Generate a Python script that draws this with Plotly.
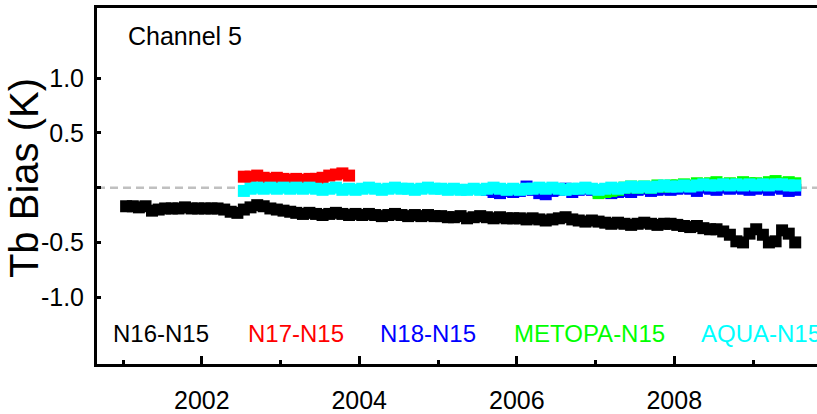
import pandas as pd
import plotly.graph_objects as go

# ---------------- data (monthly mean Tb bias, K) ----------------
channel_label = "Channel 5"
y_title = "Tb Bias (K)"
series_names = ["N16-N15", "N17-N15", "N18-N15", "METOPA-N15", "AQUA-N15"]
series_colors = ["#000000", "#ff0000", "#0000ff", "#00ff00", "#00ffff"]
series_starts = ["2001-01-01", "2002-07-01", "2005-08-01", "2007-01-01", "2002-07-01"]

n16_n15 = [
    -0.17, -0.17, -0.18, -0.17, -0.21, -0.20, -0.19, -0.19, -0.19, -0.18, -0.19, -0.19,
    -0.19, -0.19, -0.19, -0.20, -0.22, -0.23, -0.20, -0.18, -0.16, -0.17, -0.19, -0.20,
    -0.21, -0.22, -0.23, -0.24, -0.23, -0.24, -0.25, -0.24, -0.23, -0.24, -0.25, -0.24,
    -0.25, -0.24, -0.25, -0.26, -0.25, -0.24, -0.25, -0.26, -0.25, -0.26, -0.25, -0.26,
    -0.26, -0.27, -0.27, -0.26, -0.28, -0.27, -0.26, -0.27, -0.28, -0.27, -0.28, -0.28,
    -0.28, -0.29, -0.28, -0.29, -0.30, -0.29, -0.28, -0.27, -0.29, -0.30, -0.31, -0.30,
    -0.31, -0.32, -0.33, -0.32, -0.33, -0.34, -0.33, -0.32, -0.33, -0.34, -0.33, -0.33,
    -0.34, -0.35, -0.36, -0.35, -0.37, -0.38, -0.38, -0.40, -0.43, -0.49, -0.50, -0.42,
    -0.38, -0.43, -0.50, -0.49, -0.39, -0.42, -0.50,
]
n17_n15 = [
    0.10, 0.10, 0.11, 0.09, 0.08, 0.09,
    0.08, 0.07, 0.08, 0.07, 0.08, 0.08, 0.09, 0.11, 0.12, 0.13, 0.11,
]
n18_n15 = [
    -0.02, -0.04, -0.05, -0.03, -0.04,
    -0.03, 0.01, -0.02, -0.05, -0.06, -0.03, -0.02, -0.01, -0.04, -0.02, -0.01, -0.02,
    -0.03, -0.02, -0.05, -0.04, -0.03, -0.04, -0.02, -0.01, -0.03, -0.02, -0.01, -0.02,
    -0.01, 0.00, -0.01, -0.03, 0.00, -0.01, -0.02, 0.00, -0.01, 0.00, -0.01, -0.02,
    -0.01, 0.00, -0.02, 0.00, -0.01, -0.03, -0.02,
]
metopa_n15 = [
    -0.05, -0.04, -0.03, -0.02, 0.00, 0.01, 0.00, 0.01, 0.00, 0.02, 0.01, 0.02,
    0.02, 0.03, 0.02, 0.04, 0.03, 0.04, 0.05, 0.03, 0.04, 0.03, 0.05, 0.04,
    0.04, 0.03, 0.05, 0.06, 0.04, 0.05, 0.04,
]
aqua_n15 = [
    -0.03, -0.01, 0.00, -0.01, 0.00, -0.01,
    0.00, -0.01, 0.00, -0.01, 0.00, -0.01, -0.02, -0.01, 0.00, -0.02, -0.01, -0.02,
    -0.01, 0.00, -0.01, -0.02, -0.01, 0.00, -0.01, -0.01, -0.02, -0.01, 0.00, -0.01,
    -0.01, -0.02, -0.01, -0.02, -0.02, -0.01, -0.02, -0.01, 0.00, -0.01, -0.02, -0.01,
    -0.02, -0.01, -0.01, 0.00, -0.01, 0.00, -0.01, -0.02, -0.01, -0.01, 0.00, -0.01,
    -0.02, -0.01, 0.00, -0.01, 0.00, 0.01, 0.00, 0.01, 0.00, 0.01, 0.02, 0.01,
    0.01, 0.02, 0.01, 0.02, 0.03, 0.02, 0.02, 0.03, 0.02, 0.03, 0.02, 0.03,
    0.02, 0.03, 0.02, 0.03, 0.03, 0.02, 0.02,
]
series_values = [n16_n15, n17_n15, n18_n15, metopa_n15, aqua_n15]

y_tickvals = [-1.0, -0.5, 0.0, 0.5, 1.0]
y_ticktext = ["-1.0", "-0.5", "", "0.5", "1.0"]
x_range = ["2000-09-02", "2009-10-24"]
y_range = [-1.61, 1.64]

# ---------------- figure ----------------
FONT = "Liberation Sans, Arial, sans-serif"

fig = go.Figure()
for i in range(len(series_values)):
    dates = pd.date_range(series_starts[i], periods=len(series_values[i]), freq="MS") + pd.Timedelta(days=14)
    fig.add_trace(go.Scatter(
        x=dates, y=series_values[i], mode="markers", name=series_names[i],
        marker=dict(symbol="square", size=12, color=series_colors[i], line=dict(width=0)),
        showlegend=False,
    ))

fig.add_hline(y=0, line=dict(color="#c0c0c0", width=2.5, dash="8px,5px"), layer="below")

# legend-like labels along the bottom of the plot
label_px = [111, 246, 378, 512, 699]
for name, col, px in zip(series_names, series_colors, label_px):
    fig.add_annotation(
        text=name, xref="paper", yref="paper", x=(px - 97) / 720, y=(368 - 337) / 360,
        xanchor="left", yanchor="middle", showarrow=False,
        font=dict(family=FONT, size=24, color=col),
    )

fig.add_annotation(
    text=channel_label, xref="paper", yref="paper", x=(126 - 97) / 720, y=(368 - 36) / 360,
    xanchor="left", yanchor="middle", showarrow=False,
    font=dict(family=FONT, size=25, color="#000000"),
)
fig.add_annotation(
    text=y_title, xref="paper", yref="paper", x=(24 - 97) / 720, y=(368 - 180) / 360,
    xanchor="center", yanchor="middle", showarrow=False, textangle=-90,
    font=dict(family=FONT, size=40, color="#000000"),
)

fig.update_layout(
    width=817, height=414,
    margin=dict(l=97, r=0, t=8, b=46),
    paper_bgcolor="white", plot_bgcolor="white",
    showlegend=False,
    xaxis=dict(
        type="date", range=x_range, showgrid=False, zeroline=False,
        showline=True, linecolor="black", linewidth=3, mirror=True,
        ticks="inside", ticklen=8, tickwidth=2.5, tickcolor="black",
        tick0="2000-01-01", dtick="M24", tickformat="%Y",
        minor=dict(ticks="inside", ticklen=4, tickwidth=2.5, tickcolor="black", dtick="M12", showgrid=False),
        tickfont=dict(family=FONT, size=25, color="black"),
        ticklabelstandoff=12,
    ),
    yaxis=dict(
        range=y_range, showgrid=False, zeroline=False,
        showline=True, linecolor="black", linewidth=3, mirror=False,
        ticks="inside", ticklen=4, tickwidth=2.5, tickcolor="black",
        tickvals=y_tickvals, ticktext=y_ticktext,
        tickfont=dict(family=FONT, size=25, color="black"),
        ticklabelstandoff=5,
    ),
)

fig.write_html("out.html")
